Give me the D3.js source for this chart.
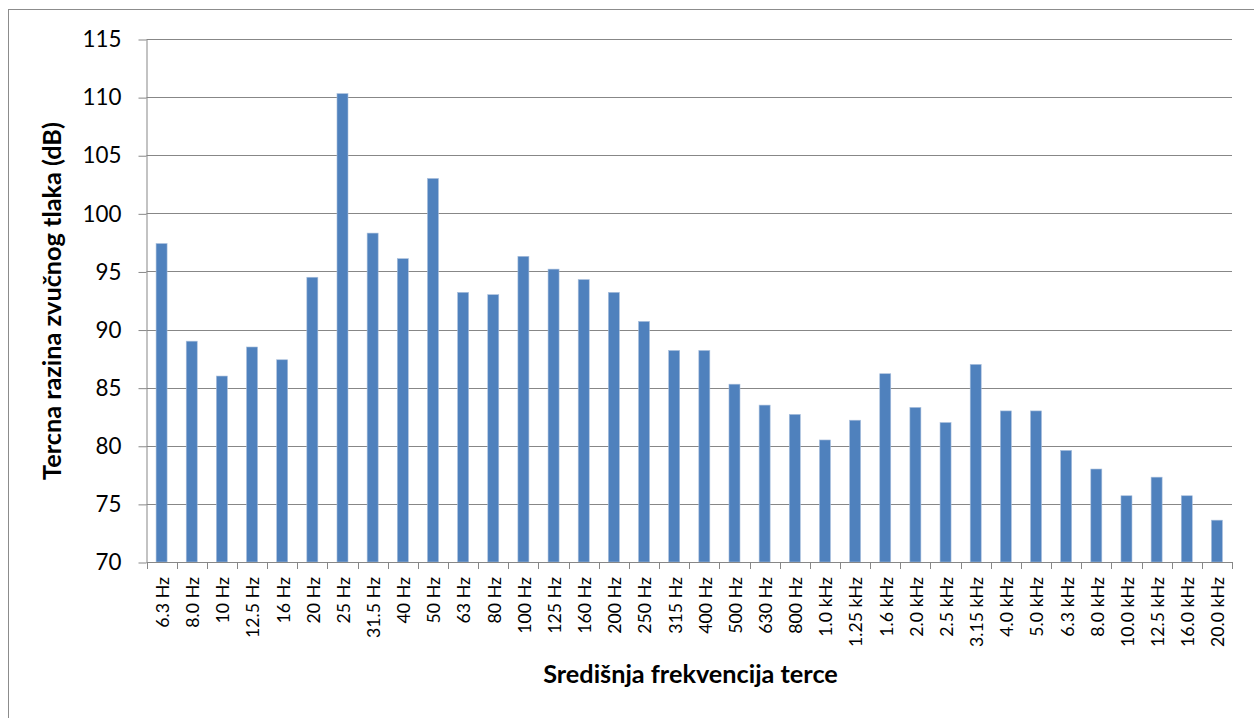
<!DOCTYPE html>
<html>
<head>
<meta charset="utf-8">
<script src="https://cdn.jsdelivr.net/npm/d3@7"></script>
<style>
  html, body { margin: 0; padding: 0; background: #fff; }
  svg { display: block; }
</style>
</head>
<body>
<svg id="chart" width="1254" height="718"></svg>
<script>
const categories = ["6.3 Hz","8.0 Hz","10 Hz","12.5 Hz","16 Hz","20 Hz","25 Hz","31.5 Hz","40 Hz","50 Hz","63 Hz","80 Hz","100 Hz","125 Hz","160 Hz","200 Hz","250 Hz","315 Hz","400 Hz","500 Hz","630 Hz","800 Hz","1.0 kHz","1.25 kHz","1.6 kHz","2.0 kHz","2.5 kHz","3.15 kHz","4.0 kHz","5.0 kHz","6.3 kHz","8.0 kHz","10.0 kHz","12.5 kHz","16.0 kHz","20.0 kHz"];
const levels = [97.4,89.0,86.0,88.5,87.4,94.5,110.3,98.3,96.1,103.0,93.2,93.0,96.3,95.2,94.3,93.2,90.7,88.2,88.2,85.3,83.5,82.7,80.5,82.2,86.2,83.3,82.0,87.0,83.0,83.0,79.6,78.0,75.7,77.3,75.7,73.6];
const yTicks = [70,75,80,85,90,95,100,105,110,115];
const xTitle = "Središnja frekvencija terce";
const yTitle = "Tercna razina zvučnog tlaka (dB)";

const svg = d3.select("#chart");
const pLeft = 146.5, pRight = 1232, pTop = 39, pBottom = 562;
const font = "Lato, 'Open Sans', sans-serif";
const gridColor = "#878787";

// size a font so that a sample string spans a given width
function fitSize(sample, targetWidth, weight) {
  const t = svg.append("text").attr("font-family", font).attr("font-size", 20)
    .attr("font-weight", weight || "normal").text(sample);
  const w = t.node().getComputedTextLength();
  t.remove();
  return w > 0 ? 20 * targetWidth / w : 20;
}
const fsYTick = fitSize("115", 39);
const fsXTick = fitSize("12.5 Hz", 61);
const fsXTitle = fitSize(xTitle, 295, "bold");
const fsYTitle = fitSize(yTitle, 358, "bold");

// outer border
svg.append("rect").attr("x", 8.5).attr("y", 9.5).attr("width", 1270).attr("height", 730)
  .attr("fill", "none").attr("stroke", "#8c8c8c").attr("stroke-width", 1);

const x = d3.scaleBand().domain(categories).range([pLeft, pRight]).paddingInner(0.635).paddingOuter(0.3175);
const y = d3.scaleLinear().domain([70, 115]).range([pBottom, pTop]);

// gridlines
svg.append("g").selectAll("line").data(yTicks.filter(t => t !== 70)).join("line")
  .attr("x1", pLeft).attr("x2", pRight)
  .attr("y1", d => Math.round(y(d)) + 0.5).attr("y2", d => Math.round(y(d)) + 0.5)
  .attr("stroke", gridColor).attr("stroke-width", 1);

// bars
svg.append("g").selectAll("rect").data(levels).join("rect")
  .attr("x", (d, i) => x(categories[i]))
  .attr("width", x.bandwidth())
  .attr("y", d => y(d))
  .attr("height", d => y(70) - y(d))
  .attr("fill", "#4F81BD")
  .attr("stroke", "#a9bfdc").attr("stroke-width", 0.6);

// y axis
const yAxis = d3.axisLeft(y).tickValues(yTicks).tickSize(8).tickPadding(17).tickFormat(d3.format("d"));
const gy = svg.append("g").attr("transform", `translate(${pLeft},0.5)`).call(yAxis);
gy.select(".domain").attr("stroke", gridColor).attr("d", `M0.5,${pTop}V${pBottom}`);
gy.selectAll(".tick line").attr("stroke", gridColor);
gy.selectAll(".tick text").attr("font-family", font).attr("font-size", fsYTick).attr("fill", "#000");

// x axis: ticks at category boundaries
const boundaries = categories.map((c, i) => pLeft + i * x.step()).concat([pRight]);
const gx = svg.append("g");
gx.append("line").attr("x1", pLeft).attr("x2", pRight).attr("y1", pBottom + 0.5).attr("y2", pBottom + 0.5)
  .attr("stroke", gridColor);
gx.selectAll("line.tk").data(boundaries).join("line").attr("class", "tk")
  .attr("x1", d => Math.round(d) + 0.5).attr("x2", d => Math.round(d) + 0.5)
  .attr("y1", pBottom).attr("y2", pBottom + 7).attr("stroke", gridColor);
gx.selectAll("text").data(categories).join("text")
  .attr("transform", d => `translate(${x(d) + x.bandwidth() / 2 + 1},577) rotate(-90)`)
  .attr("text-anchor", "end").attr("dy", "0.36em")
  .attr("font-family", font).attr("font-size", fsXTick).attr("fill", "#000")
  .text(d => d);

// axis titles
svg.append("text").attr("x", 690.5).attr("y", 683).attr("text-anchor", "middle")
  .attr("font-family", font).attr("font-weight", "bold").attr("font-size", fsXTitle).attr("fill", "#000")
  .text(xTitle);
svg.append("text").attr("transform", "translate(61,301) rotate(-90)").attr("text-anchor", "middle")
  .attr("font-family", font).attr("font-weight", "bold").attr("font-size", fsYTitle).attr("fill", "#000")
  .text(yTitle);
</script>
</body>
</html>
